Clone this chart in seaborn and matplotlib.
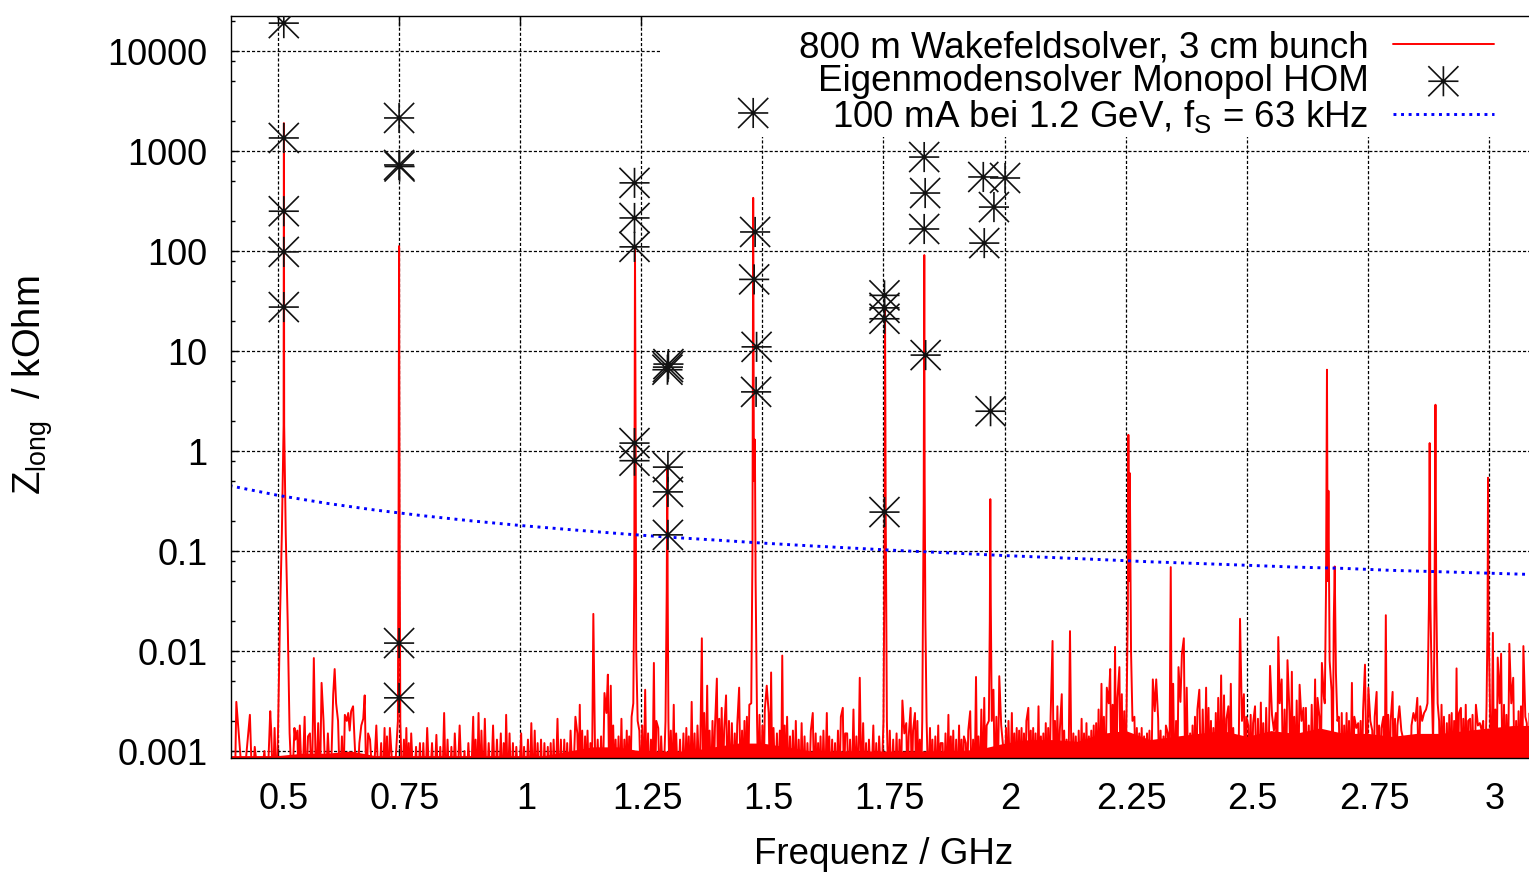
import numpy as np
import matplotlib
matplotlib.use("Agg")
import matplotlib.pyplot as plt
import seaborn as sns
from matplotlib.path import Path
from matplotlib.ticker import FixedLocator, FixedFormatter, NullFormatter, NullLocator
import matplotlib.transforms as mtransforms
from matplotlib.patches import Rectangle

# ---------------- data ----------------
# x axis ticks
xtick_vals = [0.5, 0.75, 1.0, 1.25, 1.5, 1.75, 2.0, 2.25, 2.5, 2.75, 3.0]
xtick_labels = ["0.5", "0.75", "1", "1.25", "1.5", "1.75", "2", "2.25", "2.5", "2.75", "3"]
# y axis ticks
ytick_vals = [0.001, 0.01, 0.1, 1, 10, 100, 1000, 10000]
ytick_labels = ["0.001", "0.01", "0.1", "1", "10", "100", "1000", "10000"]

# Wakefield solver: main resonance peaks (GHz, kOhm)
peak_f = [0.500, 0.504, 0.508, 0.5116, 0.5122, 0.5128, 0.516, 0.520, 0.524,
          0.7475, 0.749, 0.750, 0.751, 0.7525,
          1.2335, 1.2355, 1.237, 1.2385, 1.2395, 1.2425,
          1.300, 1.3025, 1.3037, 1.3045, 1.306,
          1.477, 1.4795, 1.481, 1.4825, 1.4845, 1.486, 1.489,
          1.750, 1.7525, 1.7532, 1.7545, 1.757,
          1.830, 1.833, 1.8342, 1.835, 1.8365, 1.839,
          1.9675, 1.9695, 1.9705, 1.9715, 1.9735,
          2.252, 2.2545, 2.2555, 2.257, 2.2585, 2.261, 2.264,
          2.661, 2.6635, 2.6655, 2.667, 2.6685, 2.671, 2.675, 2.6795, 2.6815, 2.684, 2.687,
          2.873, 2.876, 2.8775, 2.879, 2.882, 2.8845, 2.887, 2.8895, 2.891, 2.894,
          2.995, 2.997, 2.998, 2.999, 3.002]
peak_kohm = [0.0015, 0.02, 0.15, 1.8, 1900, 1.8, 0.15, 0.02, 0.0015,
             0.002, 0.3, 112, 0.25, 0.002,
             0.003, 0.05, 110, 0.8, 0.01, 0.002,
             0.002, 0.04, 0.7, 0.04, 0.002,
             0.003, 0.1, 340, 0.5, 1.3, 0.05, 0.002,
             0.002, 0.2, 27, 0.3, 0.002,
             0.002, 0.3, 91, 0.5, 0.02, 0.002,
             0.002, 0.02, 0.33, 0.03, 0.002,
             0.003, 0.03, 1.45, 0.05, 0.6, 0.01, 0.002,
             0.003, 0.04, 6.5, 0.05, 0.4, 0.008, 0.004, 0.02, 0.07, 0.006, 0.002,
             0.003, 0.03, 1.2, 0.03, 0.004, 0.0012, 0.01, 2.9, 0.04, 0.003,
             0.003, 0.02, 0.54, 0.02, 0.003]

# Wakefield solver: noise spikes (GHz, Ohm)
noise_f = [0.414, 0.442, 0.452, 0.472, 0.484, 0.486, 0.493,
           0.534, 0.536, 0.540, 0.545, 0.555, 0.562, 0.566, 0.574, 0.583, 0.590, 0.594,
           0.603, 0.614, 0.617, 0.620, 0.624, 0.632, 0.638, 0.642, 0.645, 0.648, 0.651,
           0.655, 0.658, 0.668, 0.672, 0.676, 0.679, 0.686, 0.690,
           0.703, 0.713, 0.720, 0.725, 0.731, 0.760, 0.765, 0.770, 0.775, 0.785, 0.793,
           0.800, 0.808, 0.818, 0.827, 0.835, 0.843, 0.850, 0.858, 0.865, 0.875, 0.885, 0.893,
           0.903, 0.908, 0.914, 0.920, 0.927, 0.935, 0.944, 0.952, 0.960, 0.966, 0.971,
           0.978, 0.985, 0.992,
           1.002, 1.008, 1.016, 1.023, 1.030, 1.036, 1.043, 1.050, 1.057, 1.063, 1.069,
           1.077, 1.084, 1.091, 1.097,
           1.104, 1.114, 1.118, 1.123, 1.128, 1.134, 1.139, 1.145, 1.151, 1.160, 1.167,
           1.174, 1.178, 1.181, 1.187, 1.192, 1.197,
           1.203, 1.209, 1.215, 1.220, 1.225, 1.230, 1.246, 1.252, 1.258, 1.264, 1.270,
           1.276, 1.281, 1.285, 1.291,
           1.311, 1.317, 1.322, 1.330, 1.337, 1.343, 1.348, 1.354, 1.360, 1.366, 1.375,
           1.380, 1.386, 1.391, 1.397,
           1.402, 1.406, 1.411, 1.416, 1.421, 1.425, 1.431, 1.437, 1.443, 1.448, 1.452,
           1.458, 1.463, 1.468, 1.473, 1.494,
           1.500, 1.505, 1.509, 1.513, 1.518, 1.523, 1.530, 1.536, 1.541, 1.546, 1.551,
           1.557, 1.563, 1.569, 1.575, 1.581, 1.587, 1.593,
           1.600, 1.604, 1.610, 1.615, 1.620, 1.626, 1.633, 1.638, 1.644, 1.650, 1.656,
           1.662, 1.666, 1.671, 1.675, 1.681, 1.688, 1.694,
           1.701, 1.708, 1.714, 1.720, 1.729, 1.735, 1.741,
           1.763, 1.770, 1.777, 1.783, 1.789, 1.793, 1.797,
           1.802, 1.806, 1.811, 1.815, 1.820, 1.825,
           1.846, 1.851, 1.857, 1.863, 1.868, 1.872, 1.878, 1.884, 1.889, 1.894,
           1.900, 1.906, 1.911, 1.916, 1.920, 1.925, 1.929, 1.935, 1.941, 1.946, 1.952,
           1.958, 1.963, 1.977, 1.983, 1.989, 1.993, 1.997,
           2.003, 2.008, 2.015, 2.020, 2.025, 2.030, 2.035, 2.040, 2.045, 2.049, 2.054,
           2.059, 2.064, 2.070, 2.075, 2.080, 2.085, 2.090, 2.095, 2.099,
           2.104, 2.109, 2.114, 2.118, 2.123, 2.128, 2.135, 2.142, 2.147, 2.153, 2.159,
           2.164, 2.169, 2.174, 2.179, 2.184, 2.189, 2.194,
           2.200, 2.205, 2.211, 2.215, 2.218, 2.223, 2.228, 2.233, 2.237, 2.242, 2.247,
           2.268, 2.273, 2.278, 2.283, 2.288, 2.294, 2.299,
           2.306, 2.310, 2.313, 2.317, 2.322, 2.328, 2.333, 2.337, 2.343, 2.348, 2.354,
           2.359, 2.363, 2.366, 2.370, 2.376, 2.383, 2.388, 2.393, 2.398,
           2.402, 2.409, 2.416, 2.421, 2.426, 2.431, 2.436, 2.441, 2.447, 2.453, 2.458,
           2.462, 2.467, 2.472, 2.479, 2.486, 2.490, 2.494, 2.499,
           2.503, 2.508, 2.513, 2.517, 2.523, 2.529, 2.534, 2.540, 2.548, 2.552, 2.556,
           2.560, 2.565, 2.568, 2.572, 2.578, 2.584, 2.588, 2.593, 2.598,
           2.603, 2.609, 2.613, 2.617, 2.622, 2.628, 2.634, 2.641, 2.646, 2.650, 2.655, 2.659,
           2.690, 2.696, 2.701, 2.706, 2.711, 2.717, 2.722, 2.726, 2.730, 2.735, 2.740,
           2.744, 2.751, 2.755, 2.759, 2.764, 2.768, 2.773, 2.778, 2.782, 2.787, 2.792, 2.797,
           2.801, 2.806, 2.811, 2.815, 2.819, 2.823, 2.830, 2.835, 2.840, 2.844, 2.848,
           2.852, 2.858, 2.862, 2.866, 2.870,
           2.897, 2.902, 2.907, 2.913, 2.918, 2.923, 2.928, 2.933, 2.938, 2.942, 2.947,
           2.952, 2.957, 2.961, 2.966, 2.973, 2.977, 2.981, 2.985, 2.988,
           3.008, 3.013, 3.018, 3.022, 3.025, 3.031, 3.036, 3.042, 3.046, 3.050, 3.056,
           3.061, 3.066, 3.071, 3.075, 3.078, 3.084, 3.090]
noise_ohm = [3.1, 2.3, 1.1, 1.0, 2.5, 1.6, 1.7,
             1.7, 1.3, 1.6, 1.8, 2.2, 1.4, 1.5, 8.5, 1.9, 4.8, 2.0,
             1.5, 3.7, 6.6, 3.0, 2.0, 1.4, 2.3, 2.0, 2.4, 1.6, 2.5,
             2.8, 1.3, 1.2, 1.8, 2.1, 3.6, 1.5, 1.3,
             1.8, 1.2, 1.7, 1.4, 1.7, 1.3, 1.7, 1.2, 1.5, 1.1, 1.2,
             1.2, 1.7, 1.2, 1.45, 1.1, 2.4, 1.3, 1.1, 1.5, 1.8, 1.0, 1.2,
             2.2, 1.3, 2.4, 1.6, 2.1, 1.2, 1.8, 1.3, 1.5, 1.2, 2.3,
             1.5, 1.2, 1.1,
             1.5, 1.1, 1.3, 1.9, 1.6, 1.2, 1.3, 1.2, 1.1, 1.2, 1.3,
             2.1, 1.3, 1.3, 1.2,
             1.6, 2.2, 1.5, 2.9, 1.6, 1.4, 1.6, 1.2, 23.5, 1.3, 1.4,
             3.8, 2.4, 5.8, 4.5, 1.8, 1.3,
             1.4, 2.1, 1.3, 1.6, 1.4, 2.2, 1.6, 1.8, 4.1, 1.5, 1.3,
             7.6, 2.0, 1.7, 1.4,
             1.6, 2.9, 1.5, 1.3, 1.5, 1.7, 1.4, 3.1, 1.5, 1.8, 13.4,
             2.4, 4.5, 1.6, 2.0,
             1.7, 5.3, 2.1, 2.7, 1.6, 3.6, 2.0, 1.9, 1.5, 1.8, 4.3,
             1.6, 2.0, 2.2, 2.9, 2.3,
             1.8, 2.6, 4.5, 2.4, 6.1, 1.7, 1.5, 1.6, 9.0, 1.8, 2.2,
             1.4, 1.6, 2.0, 1.3, 1.9, 1.4, 1.2,
             1.6, 2.4, 1.5, 1.2, 1.4, 1.6, 2.4, 1.4, 1.3, 1.2, 1.6,
             2.2, 2.7, 1.5, 1.5, 1.3, 2.6, 1.4,
             5.4, 1.9, 1.2, 1.3, 1.8, 1.2, 1.4,
             1.6, 1.3, 1.5, 1.3, 3.2, 1.5, 1.9,
             1.4, 2.7, 1.6, 2.4, 2.0, 1.3,
             1.7, 1.3, 1.4, 1.8, 1.2, 1.2, 1.5, 2.3, 1.4, 1.6,
             1.3, 1.8, 1.3, 1.4, 1.2, 1.6, 2.5, 1.3, 5.5, 1.4, 2.6,
             3.4, 1.8, 4.1, 2.2, 5.6, 1.8, 1.1,
             1.7, 2.0, 2.4, 1.5, 1.7, 1.6, 1.7, 1.5, 2.0, 2.7, 1.6,
             1.7, 1.5, 2.8, 1.4, 1.5, 1.9, 1.7, 2.2, 12.6,
             2.0, 2.8, 1.6, 3.7, 1.6, 1.3, 15.8, 1.5, 1.4, 1.6, 2.1,
             1.5, 1.9, 1.4, 1.6, 1.8, 1.9, 2.6,
             4.7, 2.2, 4.3, 3.0, 6.6, 2.9, 11.0, 3.4, 6.9, 3.7, 2.5,
             2.2, 1.7, 1.5, 1.7, 1.4, 1.5, 1.6,
             5.2, 2.5, 5.2, 2.1, 1.6, 1.4, 1.8, 1.5, 69.0, 4.7, 2.0,
             6.9, 3.1, 9.3, 13.4, 4.3, 1.5, 1.8, 2.2, 2.6,
             4.1, 2.6, 4.3, 2.7, 2.0, 1.7, 2.4, 3.4, 5.7, 3.6, 2.1,
             2.8, 4.7, 1.7, 1.2, 21.0, 2.0, 3.7, 2.2,
             1.8, 2.3, 1.9, 2.8, 2.1, 3.05, 1.9, 2.7, 7.1, 2.3, 1.6,
             2.4, 13.8, 3.0, 5.2, 2.6, 8.1, 2.5, 6.2, 2.2,
             3.2, 4.6, 2.0, 2.7, 2.7, 1.8, 2.9, 5.2, 3.4, 2.2, 7.6, 3.5,
             2.2, 2.4, 1.8, 2.4, 2.0, 4.8, 2.2, 1.7, 1.9, 2.0, 2.5,
             7.3, 4.3, 2.0, 1.6, 2.2, 3.9, 1.8, 1.7, 2.2, 22.8, 2.3, 2.0,
             3.9, 2.1, 1.8, 2.8, 1.6, 1.3, 1.2, 1.4, 1.8, 2.4, 2.0,
             3.4, 2.8, 2.0, 2.4, 2.6,
             2.0, 2.9, 2.2, 1.9, 2.3, 2.4, 2.0, 6.7, 2.4, 2.7, 2.1,
             2.9, 2.0, 2.1, 2.3, 2.9, 1.8, 1.9, 1.6, 2.0,
             15.2, 2.6, 8.6, 3.0, 9.4, 2.9, 2.3, 11.8, 3.0, 5.4, 2.0,
             2.5, 2.8, 11.2, 2.2, 1.9, 2.4, 2.0]
trough_ohm = 0.4          # level the trace drops to between spikes (below the axis)

# level up to which the dense noise floor looks solid red (GHz, Ohm)
band_f = [0.40, 0.45, 0.50, 0.55, 0.60, 0.65, 0.70, 0.75, 0.80, 0.85, 0.90, 0.95,
          1.00, 1.05, 1.10, 1.15, 1.20, 1.25, 1.30, 1.35, 1.40, 1.45, 1.50, 1.55,
          1.60, 1.65, 1.70, 1.75, 1.80, 1.85, 1.90, 1.95, 2.00, 2.05, 2.10, 2.15,
          2.20, 2.25, 2.30, 2.35, 2.40, 2.45, 2.50, 2.55, 2.60, 2.65, 2.70, 2.75,
          2.80, 2.85, 2.90, 2.95, 3.00, 3.05, 3.10]
band_ohm = [0.9, 0.9, 0.9, 0.95, 0.95, 1.0, 0.9, 0.9, 0.9, 0.9, 0.9, 0.9,
            0.9, 0.9, 1.0, 1.1, 1.1, 1.0, 1.0, 1.0, 1.1, 1.2, 1.2, 1.1,
            1.0, 1.0, 1.0, 1.0, 1.0, 1.0, 1.0, 1.05, 1.2, 1.3, 1.3, 1.25,
            1.5, 1.6, 1.3, 1.4, 1.5, 1.6, 1.4, 1.6, 1.5, 1.7, 1.5, 1.5,
            1.4, 1.5, 1.5, 1.6, 1.7, 1.8, 1.8]

# Eigenmode solver, monopole HOMs (GHz, kOhm)
hom_f = [0.512, 0.512, 0.512, 0.512, 0.512,
         0.750, 0.750, 0.751, 0.750, 0.750,
         1.236, 1.236, 1.236, 1.236, 1.236,
         1.305, 1.306, 1.304, 1.305, 1.305, 1.305,
         1.481, 1.485, 1.483, 1.488, 1.487,
         1.752, 1.752, 1.752, 1.752,
         1.834, 1.836, 1.834, 1.837,
         1.956, 2.001, 1.978, 1.958, 1.971]
hom_kohm = [19000, 1350, 250, 98, 27.5,
            2140, 725, 700, 0.012, 0.0034,
            480, 214, 110, 1.2, 0.80,
            6.9, 7.4, 6.5, 0.69, 0.39, 0.145,
            2400, 155, 52, 11, 3.9,
            36, 27, 21, 0.245,
            870, 380, 166, 9.1,
            550, 537, 275, 120, 2.5]

# Stability threshold: 100 mA at 1.2 GeV, fs = 63 kHz (GHz, kOhm)
stab_f = [0.40, 0.50, 0.60, 0.70, 0.80, 0.90, 1.00, 1.10, 1.20, 1.30, 1.40, 1.50, 1.60, 1.70,
          1.80, 1.90, 2.00, 2.10, 2.20, 2.30, 2.40, 2.50, 2.60, 2.70, 2.80, 2.90, 3.00, 3.10]
stab_kohm = [0.45, 0.36, 0.30, 0.257, 0.225, 0.20, 0.18, 0.164, 0.15, 0.138, 0.129, 0.12,
             0.1125, 0.106, 0.10, 0.095, 0.09, 0.086, 0.082, 0.078, 0.075, 0.072, 0.069,
             0.067, 0.064, 0.062, 0.06, 0.058]

labels = ["800 m Wakefeldsolver, 3 cm bunch",
          "Eigenmodensolver Monopol HOM",
          r"100 mA bei 1.2 GeV, f$_{\mathregular{S}}$ = 63 kHz"]

# ---------------- build the wakefield trace ----------------
pts = sorted(zip(list(noise_f) + list(peak_f),
                 [v / 1000.0 for v in noise_ohm] + list(peak_kohm)))
trough = trough_ohm / 1000.0
wake_f, wake_z = [pts[0][0] - 0.003], [trough]
prev = None
for f, z in pts:
    if prev is not None and f - prev > 0.0045:
        wake_f.append(0.5 * (f + prev))
        wake_z.append(trough)
    wake_f.append(f)
    wake_z.append(z)
    prev = f
wake_f.append(prev + 0.003)
wake_z.append(trough)

# ---------------- style ----------------
sns.set_theme(style="white")
plt.rcParams["font.family"] = ["Liberation Sans", "DejaVu Sans"]
plt.rcParams["mathtext.fontset"] = "custom"
plt.rcParams["mathtext.rm"] = "Liberation Sans"
plt.rcParams["mathtext.it"] = "Liberation Sans:italic"
plt.rcParams["text.color"] = "black"

W, H = 1529, 872
fig = plt.figure(figsize=(W / 100, H / 100), dpi=100)
fig.patch.set_facecolor("white")
ax = fig.add_axes([231 / W, (H - 758) / H, 1300 / W, 742 / H])
ax.set_facecolor("white")

ax.set_yscale("log")

# dense part of the noise floor
ax.fill_between(band_f, trough, [v / 1000.0 for v in band_ohm], color="#ff0000",
                linewidth=0, zorder=1.9)

sns.lineplot(x=wake_f, y=wake_z, sort=False, estimator=None, color="#ff0000",
             linewidth=1.4, ax=ax, label=labels[0], zorder=2)

star = Path([(-0.5, 0), (0.5, 0), (0, -0.5), (0, 0.5),
             (-0.5, -0.5), (0.5, 0.5), (-0.5, 0.5), (0.5, -0.5)],
            [Path.MOVETO, Path.LINETO] * 4)
sns.scatterplot(x=hom_f, y=hom_kohm, marker=star, s=470, color="black",
                edgecolor="#111111", facecolor="none", linewidth=1.2,
                ax=ax, label=labels[1], zorder=4)

sns.lineplot(x=stab_f, y=stab_kohm, sort=False, estimator=None, color="#0000ff",
             linewidth=2.1, linestyle=(0, (1, 1.6)), ax=ax, label=labels[2], zorder=2)

ax.set_xlim(0.403, 3.0867)
ax.set_ylim(10 ** -3.07, 10 ** 4.35)

ax.xaxis.set_major_locator(FixedLocator(xtick_vals))
ax.xaxis.set_major_formatter(FixedFormatter(xtick_labels))
ax.xaxis.set_minor_locator(NullLocator())
ax.yaxis.set_major_locator(FixedLocator(ytick_vals))
ax.yaxis.set_major_formatter(FixedFormatter(ytick_labels))
ax.yaxis.set_minor_locator(FixedLocator([m * 10.0 ** e for e in range(-4, 5) for m in (2, 5, 8)]))
ax.yaxis.set_minor_formatter(NullFormatter())

ax.tick_params(axis="x", which="major", direction="in", length=7, width=1.0,
               top=True, bottom=True, labelsize=26, pad=17, color="black", labelcolor="black")
ax.tick_params(axis="y", which="major", direction="in", length=5, width=1.0,
               left=True, right=False, labelsize=26, pad=17, color="black", labelcolor="black")
ax.tick_params(axis="y", which="minor", direction="in", length=3, width=1.0,
               left=True, right=False, color="black")

ax.set_axisbelow(True)
ax.grid(True, which="major", axis="both", color="black", linewidth=0.9,
        linestyle=(0, (2.5, 1.6)))

for side in ["left", "top", "bottom"]:
    ax.spines[side].set_color("black")
    ax.spines[side].set_linewidth(1.0)
ax.spines["right"].set_visible(False)

# key area cleared like in the original plot
ax.add_patch(Rectangle(((660 - 231) / 1300, (758 - 137) / 742), 1.0, 1.0,
                       transform=ax.transAxes, facecolor="white", edgecolor="none",
                       zorder=1))

ax.set_xlabel("Frequenz / GHz", fontsize=26.5, color="black")
ax.set_ylabel(r"Z$_{\mathregular{long}}$  / kOhm", fontsize=27.5, color="black")
ax.xaxis.set_label_coords((884 - 231) / 1300, -(837 - 758) / 742)
ax.yaxis.set_label_coords(-(231 - 55) / 1300, (758 - 385) / 742)

handles, labs = ax.get_legend_handles_labels()
leg = ax.legend(handles, labs, loc="upper right",
                bbox_to_anchor=(1494 / W, (H - 30) / H), bbox_transform=fig.transFigure,
                frameon=False, markerfirst=False, handlelength=2.75, handletextpad=0.65,
                borderpad=0, borderaxespad=0, labelspacing=-0.03, fontsize=26.5,
                scatterpoints=1)
leg.set_zorder(3)

fig.canvas.draw()
shift = mtransforms.ScaledTranslation(6 / 100, 0, fig.dpi_scale_trans)
for lab in ax.get_xticklabels():
    lab.set_transform(lab.get_transform() + shift)

fig.savefig("out.png", dpi=100)
